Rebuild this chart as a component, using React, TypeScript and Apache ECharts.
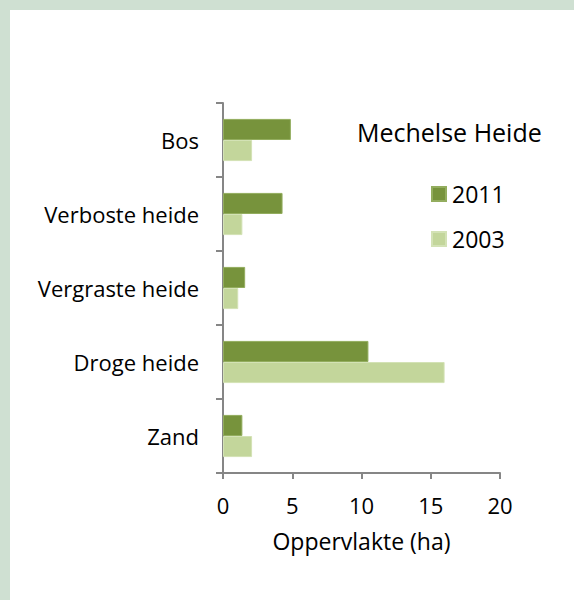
import React, { useEffect, useRef } from "react";
import * as echarts from "echarts";

const categories = ["Bos", "Verboste heide", "Vergraste heide", "Droge heide", "Zand"];
const values2011 = [4.9, 4.3, 1.6, 10.5, 1.4];
const values2003 = [2.1, 1.4, 1.1, 16.0, 2.1];
const seriesNames = ["2011", "2003"];
const chartTitle = "Mechelse Heide";
const xAxisName = "Oppervlakte (ha)";

const FONT = "Open Sans";

export default function App() {
  const ref = useRef<HTMLDivElement>(null);
  useEffect(() => {
    document.body.style.margin = "0";
    const chart = echarts.init(ref.current!, undefined, { renderer: "svg" });
    chart.setOption({
      animation: false,
      backgroundColor: "#ffffff",
      textStyle: { fontFamily: FONT },
      graphic: [
        { type: "rect", left: 0, top: 0, shape: { width: 574, height: 10 }, style: { fill: "#cfe0d2" }, silent: true },
        { type: "rect", left: 0, top: 0, shape: { width: 10, height: 600 }, style: { fill: "#cfe0d2" }, silent: true },
      ],
      title: {
        text: chartTitle,
        left: 352,
        top: 114,
        textStyle: { fontFamily: FONT, fontSize: 25, fontWeight: "normal", color: "#000" },
      },
      legend: {
        orient: "vertical",
        left: 426,
        top: 176,
        itemWidth: 14,
        itemHeight: 14,
        itemGap: 19,
        icon: "rect",
        data: seriesNames,
        textStyle: { fontFamily: FONT, fontSize: 23, color: "#000", lineHeight: 26, padding: [0, 0, 0, 1] },
      },
      grid: { left: 223, right: 74, top: 103, bottom: 127, containLabel: false },
      xAxis: {
        type: "value",
        min: 0,
        max: 20,
        interval: 5,
        name: xAxisName,
        nameLocation: "middle",
        nameGap: 56,
        nameTextStyle: { fontFamily: FONT, fontSize: 23, color: "#000" },
        axisLine: { show: true, lineStyle: { color: "#868686", width: 2 } },
        axisTick: { show: true, length: 6, lineStyle: { color: "#868686", width: 2 } },
        splitLine: { show: false },
        axisLabel: { fontFamily: FONT, fontSize: 22, color: "#000", margin: 21 },
      },
      yAxis: {
        type: "category",
        inverse: true,
        data: categories,
        axisLine: { show: true, lineStyle: { color: "#868686", width: 2 } },
        axisTick: { show: true, length: 7, alignWithLabel: false, lineStyle: { color: "#868686", width: 2 } },
        axisLabel: { fontFamily: FONT, fontSize: 22, color: "#000", margin: 24 },
        splitLine: { show: false },
      },
      series: [
        {
          name: seriesNames[0],
          type: "bar",
          data: values2011,
          barGap: "0%",
          barCategoryGap: "43%",
          itemStyle: { color: "#77933c", borderColor: "#93ad5e", borderWidth: 1 },
        },
        {
          name: seriesNames[1],
          type: "bar",
          data: values2003,
          barGap: "0%",
          barCategoryGap: "43%",
          itemStyle: { color: "#c3d69b", borderColor: "#d3e2b5", borderWidth: 1 },
        },
      ],
    });
    return () => chart.dispose();
  }, []);
  return <div ref={ref} style={{ width: 574, height: 600 }} />;
}
